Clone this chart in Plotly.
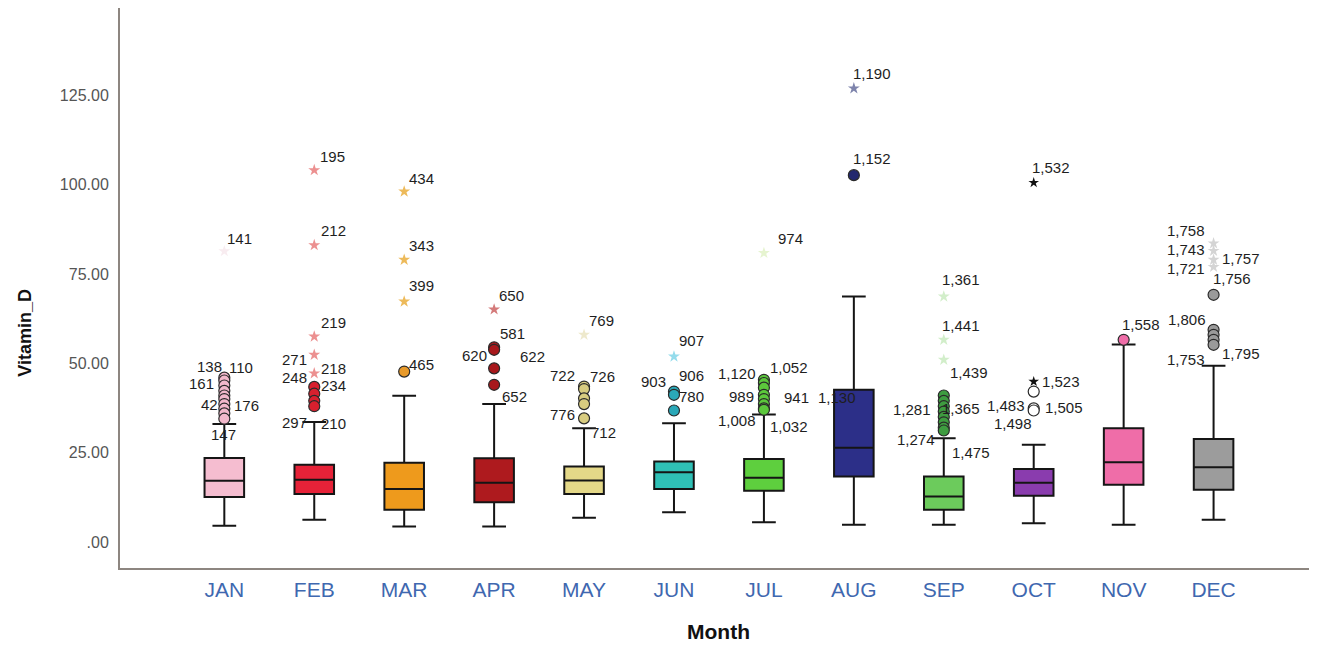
import plotly.graph_objects as go

# ---------------- data ----------------
months = ["JAN", "FEB", "MAR", "APR", "MAY", "JUN", "JUL", "AUG", "SEP", "OCT", "NOV", "DEC"]
q1 = [12.6, 13.4, 9.0, 11.1, 13.4, 14.8, 14.3, 18.3, 9.0, 12.9, 16.0, 14.6]
median = [17.1, 17.4, 14.8, 16.6, 17.2, 19.5, 18.0, 26.4, 12.7, 16.6, 22.3, 20.9]
q3 = [23.5, 21.6, 22.2, 23.4, 21.1, 22.5, 23.2, 42.6, 18.3, 20.4, 31.8, 28.8]
lower_fence = [4.5, 6.2, 4.3, 4.3, 6.8, 8.3, 5.5, 4.8, 4.8, 5.2, 4.8, 6.2]
upper_fence = [33.0, 33.6, 40.9, 38.6, 31.8, 33.2, 35.7, 68.7, 29.0, 27.2, 55.3, 49.3]

# outliers: month index, value, case number label, kind ("o" outlier, "*" extreme)
out_month = [
    0, 0, 0, 0, 0, 0, 0, 0, 0, 0, 0,
    1, 1, 1, 1, 1, 1, 1, 1, 1,
    2, 2, 2, 2,
    3, 3, 3, 3, 3,
    4, 4, 4, 4, 4, 4,
    5, 5, 5, 5,
    6, 6, 6, 6, 6, 6, 6, 6, 6,
    7, 7,
    8, 8, 8, 8, 8, 8, 8, 8, 8, 8, 8,
    9, 9, 9, 9, 9,
    10,
    11, 11, 11, 11, 11, 11, 11, 11, 11,
]
out_value = [
    46.0, 45.2, 43.8, 42.3, 41.0, 40.0, 38.6, 37.3, 36.0, 34.5, 81.4,
    43.4, 41.5, 39.5, 38.0, 104.1, 83.1, 57.5, 52.4, 47.2,
    47.7, 98.1, 79.0, 67.3,
    54.5, 53.8, 48.6, 44.0, 65.1,
    43.5, 42.8, 40.2, 38.6, 34.6, 58.0,
    42.1, 41.2, 36.8, 51.9,
    45.4, 44.5, 43.2, 41.2, 40.0, 38.6, 37.4, 37.0, 80.9,
    102.7, 127.0,
    41.0, 39.5, 38.0, 36.5, 35.0, 33.5, 32.0, 31.2, 68.7, 56.6, 51.0,
    42.1, 37.4, 36.8, 44.9, 100.6,
    56.6,
    69.2, 59.4, 58.0, 56.6, 55.2, 83.6, 81.5, 79.0, 77.0,
]
out_case = [
    "138", "110", "161", "", "42", "176", "", "", "", "147", "141",
    "248", "234", "297", "210", "195", "212", "219", "271", "218",
    "465", "434", "343", "399",
    "581", "620", "622", "652", "650",
    "722", "726", "", "776", "712", "769",
    "903", "906", "780", "907",
    "1,120", "1,052", "", "989", "941", "1,008", "1,032", "1,130", "974",
    "1,152", "1,190",
    "", "", "1,281", "1,365", "", "", "1,274", "1,475", "1,361", "1,441", "1,439",
    "1,483", "1,505", "1,498", "1,523", "1,532",
    "1,558",
    "1,756", "1,806", "", "1,795", "1,753", "1,758", "1,743", "1,757", "1,721",
]
out_kind = [
    "o", "o", "o", "o", "o", "o", "o", "o", "o", "o", "*",
    "o", "o", "o", "o", "*", "*", "*", "*", "*",
    "o", "*", "*", "*",
    "o", "o", "o", "o", "*",
    "o", "o", "o", "o", "o", "*",
    "o", "o", "o", "*",
    "o", "o", "o", "o", "o", "o", "o", "o", "*",
    "o", "*",
    "o", "o", "o", "o", "o", "o", "o", "o", "*", "*", "*",
    "o", "o", "o", "*", "*",
    "o",
    "o", "o", "o", "o", "o", "*", "*", "*", "*",
]

# ---------------- styling ----------------
# label offsets (pixels, x right / y down) for each outlier label
label_offset = [
    (-15, -11), (17, -13), (-23, -2), (0, 0), (-15, 9), (22, 6), (0, 0), (0, 0), (0, 0), (-1, 16), (15, -13),
    (-20, -9), (19, -8), (-20, 22), (19, 17), (18, -14), (19, -15), (19, -14), (-20, 5), (19, -5),
    (17, -7), (17, -13), (17, -14), (17, -16),
    (18, -14), (-20, 6), (38, -12), (20, 12), (17, -14),
    (-22, -11), (18, -13), (0, 0), (-22, 10), (19, 14), (17, -14),
    (-20, -10), (18, -19), (18, -14), (18, -16),
    (-27, -6), (25, -16), (0, 0), (-22, 2), (33, -2), (-27, 16), (25, 18), (73, -12), (27, -15),
    (18, -17), (18, -15),
    (0, 0), (0, 0), (-32, 3), (17, -3), (0, 0), (0, 0), (-28, 12), (27, 22), (17, -17), (17, -14), (25, 13),
    (-28, 14), (30, -1), (-21, 13), (27, 0), (17, -15),
    (17, -15),
    (18, -16), (-27, -10), (0, 0), (27, 14), (-28, 15), (-28, -13), (-28, -1), (27, -1), (-28, 2),
]

box_fill = ["#F5BDD0", "#E62238", "#EE9A1C", "#AE1A1E", "#E4D888", "#2FC0B6",
            "#5ECF3E", "#2C2F88", "#6CCB5C", "#8A3CAE", "#EF6DA8", "#9C9C9C"]
circle_fill = ["#F2B8CB", "#D8202E", "#E89A2A", "#A8181C", "#D8CC80", "#2AA8B8",
               "#5CC83C", "#23286E", "#3E9C40", "#FFFFFF", "#EF6DA8", "#9A9A9A"]
star_color = ["#F8ECF0", "#EC9090", "#EDBA5A", "#D47A7A", "#EEE9CC", "#94DCEC",
              "#E6F4D0", "#7E84AC", "#D2EECA", "#111111", "#EF6DA8", "#D4D4D4"]

n = len(months)
fig = go.Figure()

for i, m in enumerate(months):
    fig.add_trace(go.Box(
        x=[i], q1=[q1[i]], median=[median[i]], q3=[q3[i]],
        lowerfence=[lower_fence[i]], upperfence=[upper_fence[i]],
        boxpoints=False, width=0.44, whiskerwidth=0.6,
        fillcolor=box_fill[i], line=dict(color="#151515", width=2),
        name=m, showlegend=False, hoverinfo="skip",
    ))

# outlier markers
for i in range(n):
    for kind in ("o", "*"):
        idx = [k for k in range(len(out_value)) if out_month[k] == i and out_kind[k] == kind]
        if not idx:
            continue
        ys = [out_value[k] for k in idx]
        if kind == "o":
            marker = dict(symbol="circle", size=11, color=circle_fill[i],
                          line=dict(color="#2a2a2a", width=1.2))
        else:
            marker = dict(symbol="star", size=9 if i != 9 else 8, color=star_color[i],
                          line=dict(width=0))
        fig.add_trace(go.Scatter(x=[i] * len(ys), y=ys, mode="markers", marker=marker,
                                 showlegend=False, hoverinfo="skip"))

annotations = []
for k in range(len(out_value)):
    if not out_case[k]:
        continue
    dx, dy = label_offset[k]
    annotations.append(dict(
        x=out_month[k], y=out_value[k], xref="x", yref="y", text=out_case[k],
        showarrow=False, xshift=dx, yshift=-dy,
        font=dict(family="Liberation Sans, Arial, sans-serif", size=15, color="#1e1e1e"),
    ))

annotations.append(dict(text="<b>Vitamin_D</b>", xref="paper", yref="paper",
                        x=-0.089, y=0.421, showarrow=False, textangle=-90,
                        font=dict(family="Liberation Sans, Arial, sans-serif", size=18, color="#111")))
annotations.append(dict(text="<b>Month</b>", xref="paper", yref="paper",
                        x=0.4996, y=-0.137, showarrow=False,
                        font=dict(family="Liberation Sans, Arial, sans-serif", size=21, color="#111")))

yticks = [0, 25, 50, 75, 100, 125]
ytext = [".00" if v == 0 else f"{v:.2f}" for v in yticks]

# the page body adds an 8px offset; margins compensate so the plot area sits where the reference has it
fig.update_layout(
    width=1317, height=645,
    margin=dict(l=112, r=8, t=0, b=85),
    paper_bgcolor="white", plot_bgcolor="white",
    boxmode="overlay",
    annotations=annotations,
    xaxis=dict(
        range=[-1.16, 12.15], tickmode="array", tickvals=list(range(n)), ticktext=months,
        showgrid=False, zeroline=False, showline=True, linecolor="#8d8680", linewidth=2,
        ticks="", ticklabelstandoff=2,
        tickfont=dict(family="Liberation Sans, Arial, sans-serif", size=21, color="#3F68B0"),
    ),
    yaxis=dict(
        range=[-7.3, 149.5], tickmode="array", tickvals=yticks, ticktext=ytext,
        showgrid=False, zeroline=False, showline=True, linecolor="#8d8680", linewidth=2,
        ticks="", ticklabelstandoff=6,
        tickfont=dict(family="Liberation Sans, Arial, sans-serif", size=16, color="#555"),
    ),
)

fig.write_html("out.html")
